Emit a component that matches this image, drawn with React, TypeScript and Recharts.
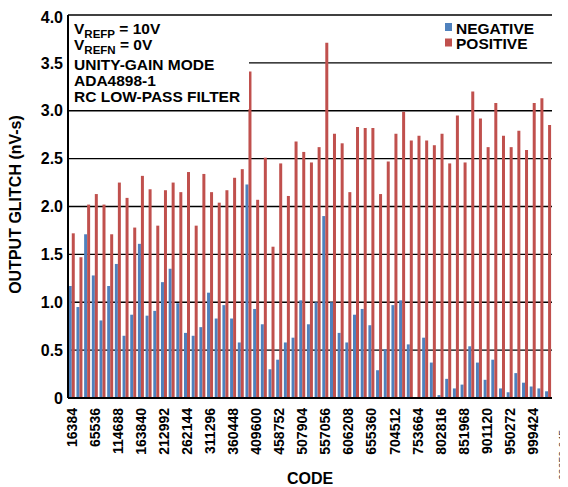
import React from 'react';
import { BarChart, Bar, XAxis, YAxis, CartesianGrid } from 'recharts';

// DAC codes (every 16384th step)
const codes = [
  16384, 32768, 49152, 65536, 81920, 98304, 114688, 131072, 147456, 163840,
  180224, 196608, 212992, 229376, 245760, 262144, 278528, 294912, 311296, 327680,
  344064, 360448, 376832, 393216, 409600, 425984, 442368, 458752, 475136, 491520,
  507904, 524288, 540672, 557056, 573440, 589824, 606208, 622592, 638976, 655360,
  671744, 688128, 704512, 720896, 737280, 753664, 770048, 786432, 802816, 819200,
  835584, 851968, 868352, 884736, 901120, 917504, 933888, 950272, 966656, 983040,
  999424, 1015808, 1032192,
];

const negative = [
  1.17, 0.95, 1.71, 1.28, 0.81, 1.17, 1.4, 0.65, 0.87, 1.61,
  0.86, 0.91, 1.21, 1.35, 0.99, 0.68, 0.65, 0.74, 1.1, 0.83,
  0.97, 0.83, 0.58, 2.23, 0.93, 0.77, 0.3, 0.4, 0.58, 0.63,
  1.02, 0.77, 1.0, 1.9, 1.0, 0.68, 0.58, 0.87, 0.93, 0.76,
  0.29, 0.51, 0.97, 1.02, 0.56, 0.01, 0.63, 0.37, 0.03, 0.2,
  0.1, 0.14, 0.54, 0.37, 0.19, 0.4, 0.1, 0.06, 0.26, 0.16,
  0.12, 0.1, 0.07,
];

const positive = [
  1.72, 1.47, 2.02, 2.13, 2.02, 1.71, 2.25, 2.09, 1.78, 2.32,
  2.18, 1.8, 2.17, 2.25, 2.15, 2.36, 1.8, 2.34, 2.15, 2.04,
  2.17, 2.3, 2.39, 3.41, 2.07, 2.51, 1.58, 2.45, 2.11, 2.68,
  2.57, 2.46, 2.62, 3.71, 2.76, 2.66, 2.15, 2.83, 2.82, 2.82,
  2.13, 2.47, 2.76, 2.99, 2.69, 2.74, 2.69, 2.64, 2.76, 2.45,
  2.95, 2.46, 3.2, 2.92, 2.62, 3.08, 2.74, 2.62, 2.79, 2.59,
  3.08, 3.13, 2.85,
];

const yTicks = [0, 0.5, 1, 1.5, 2, 2.5, 3, 3.5, 4];

const seriesNames = ['NEGATIVE', 'POSITIVE'];

const FONT = '"Liberation Sans", Arial, Helvetica, sans-serif';
const BLUE = '#4F81BD';
const RED = '#C0504D';

const data = codes.map((code, i) => ({
  code: String(code),
  negative: negative[i],
  positive: positive[i],
}));

const CodeTick = (props: any) => {
  const { x, y, payload } = props;
  return (
    <text
      x={x}
      y={y}
      transform={`rotate(-90, ${x}, ${y})`}
      textAnchor="end"
      dominantBaseline="central"
      fontFamily={FONT}
      fontWeight="bold"
      fontSize={14}
      fill="#000"
    >
      {payload.value}
    </text>
  );
};

const YTitle = (props: any) => {
  const { viewBox } = props;
  const x = viewBox.x + 13;
  const y = viewBox.y + viewBox.height / 2 - 2;
  return (
    <text
      x={x}
      y={y}
      transform={`rotate(-90, ${x}, ${y})`}
      textAnchor="middle"
      fontFamily={FONT}
      fontWeight="bold"
      fontSize={16}
      fill="#000"
    >
      OUTPUT GLITCH (nV-s)
    </text>
  );
};

// x-axis title plus the small figure id in the bottom-right corner
const XTitle = (props: any) => {
  const { viewBox } = props;
  const idX = viewBox.x + viewBox.width + 15;
  const idY = viewBox.y + 57;
  return (
    <g>
      <text
        x={viewBox.x + viewBox.width / 2}
        y={viewBox.y + 86}
        textAnchor="middle"
        fontFamily={FONT}
        fontWeight="bold"
        fontSize={16}
        fill="#000"
      >
        CODE
      </text>
      <text
        x={idX}
        y={idY}
        transform={`rotate(-90, ${idX}, ${idY})`}
        textAnchor="middle"
        fontFamily={FONT}
        fontSize={10.5}
        fill="#444"
      >
        09650-045
      </text>
    </g>
  );
};

const NoteBox = () => (
  <svg
    width={180}
    height={96}
    style={{ position: 'absolute', left: 61, top: 8 }}
  >
    <rect x={0} y={0} width={180} height={93} fill="#fff" />
    <g fontFamily={FONT} fontWeight="bold" fill="#000">
      <text x={5} y={18} fontSize={15.5}>
        V<tspan fontSize={11.5} dy={4}>REFP</tspan>
        <tspan dy={-4}> = 10V</tspan>
      </text>
      <text x={5} y={34} fontSize={15.5}>
        V<tspan fontSize={11.5} dy={4}>REFN</tspan>
        <tspan dy={-4}> = 0V</tspan>
      </text>
      <text x={5} y={53.5} fontSize={15.5}>UNITY-GAIN MODE</text>
      <text x={5} y={70} fontSize={15.5}>ADA4898-1</text>
      <text x={5} y={86} fontSize={15.5}>RC LOW-PASS FILTER</text>
    </g>
  </svg>
);

const LegendBox = () => (
  <svg
    width={110}
    height={40}
    style={{ position: 'absolute', left: 436, top: 8 }}
  >
    {seriesNames.map((name, i) => (
      <g key={name}>
        <rect x={1} y={7 + i * 15.5} width={7} height={8} fill={i === 0 ? BLUE : RED} />
        <text
          x={12}
          y={17.5 + i * 15.5}
          fontFamily={FONT}
          fontWeight="bold"
          fontSize={15.5}
          fill="#000"
        >
          {name}
        </text>
      </g>
    ))}
  </svg>
);

export default function App() {
  return (
    <div style={{ position: 'relative', width: 560, height: 479, fontFamily: FONT }}>
      <BarChart
        width={560}
        height={479}
        data={data}
        margin={{ top: 7, right: 16, left: 0, bottom: 9 }}
        barCategoryGap="10%"
        barGap={0}
      >
        <CartesianGrid vertical={false} stroke="#000" strokeWidth={1.3} />
        <XAxis
          dataKey="code"
          interval={2}
          height={80}
          tick={<CodeTick />}
          tickLine={false}
          tickSize={6}
          tickMargin={4}
          axisLine={{ stroke: '#000', strokeWidth: 2 }}
          label={<XTitle />}
        />
        <YAxis
          width={60}
          domain={[0, 4]}
          ticks={yTicks}
          tickLine={false}
          tickSize={3}
          tickMargin={2}
          tickFormatter={(v: number) => (v === 0 ? '0' : v.toFixed(1))}
          tick={{ fill: '#000', fontSize: 16, fontWeight: 'bold', fontFamily: FONT }}
          axisLine={{ stroke: '#000', strokeWidth: 2 }}
          label={<YTitle />}
        />
        <YAxis
          yAxisId="frame"
          orientation="right"
          width={0}
          domain={[0, 4]}
          tick={false}
          tickLine={false}
          axisLine={{ stroke: '#000', strokeWidth: 1.5 }}
        />
        <Bar dataKey="negative" name={seriesNames[0]} fill={BLUE} isAnimationActive={false} />
        <Bar dataKey="positive" name={seriesNames[1]} fill={RED} isAnimationActive={false} />
      </BarChart>
      <NoteBox />
      <LegendBox />
    </div>
  );
}
